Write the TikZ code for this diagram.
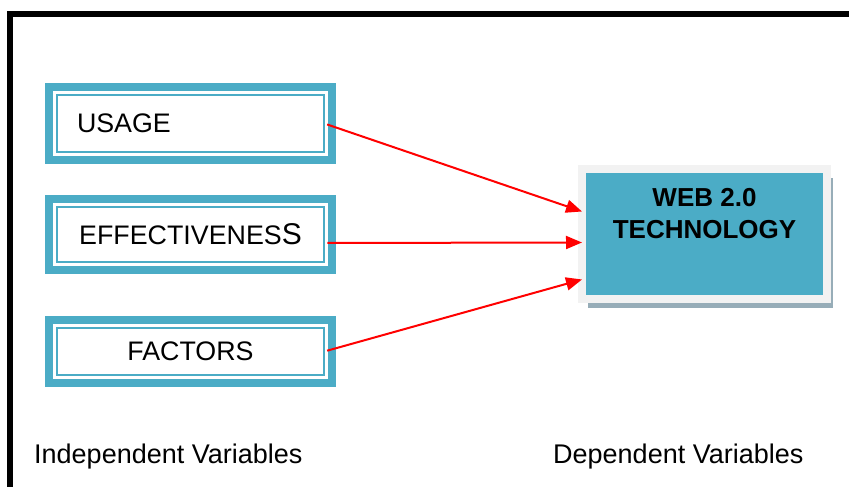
\documentclass[tikz,border=0pt]{standalone}
\usepackage{fontspec}
\setmainfont{Liberation Sans}
\usetikzlibrary{positioning,arrows.meta,shadows}
\definecolor{boxblue}{HTML}{4BACC6}
\definecolor{bandgray}{HTML}{F2F2F2}
\definecolor{shadowgray}{HTML}{97ADB8}
\tikzset{
  varbox/.style={rectangle, inner sep=0pt, outer sep=0pt, minimum width=267.6pt, minimum height=#1,
    fill=white, draw=boxblue, line width=2pt,
    preaction={draw=boxblue, line width=23.4pt},
    preaction={draw=white, line width=6.8pt},
    font=\fontsize{26.8}{30}\selectfont},
  webbox/.style={rectangle, inner sep=0pt, outer sep=0pt, minimum width=245pt, minimum height=130pt,
    fill=boxblue, draw=bandgray, line width=8pt,
    drop shadow={shadow xshift=6pt, shadow yshift=-9pt, fill=shadowgray, opacity=1}},
  webtitle/.style={inner sep=0pt, align=center, font=\bfseries\fontsize{26}{32}\selectfont},
  caption/.style={inner sep=0pt, anchor=base west, font=\fontsize{27}{30}\selectfont},
  link/.style={-{Triangle[length=16pt,width=13pt]}, red, line width=2pt, shorten <=3pt}
}
\begin{document}
\begin{tikzpicture}[x=1pt, y=1pt]
  \useasboundingbox (0,0) rectangle (849,487);
  % frame
  \draw [line width=5.5pt] (10,-20) -- (10,473) -- (870,473);
  % independent variables
  \node [varbox=57.6pt, text width=227pt, align=left] (usage) at (190.5,363.5) {USAGE};
  \node [varbox=55.6pt, below=54.4pt of usage] (effect) {EFFECTIVENES{\fontsize{30}{30}\selectfont S}};
  \node [varbox=47.6pt, below=65.4pt of effect] (factors) {FACTORS};
  % dependent variable
  \node [webbox, right=257.7pt of effect] (web) {};
  \node [webtitle, below=19pt of web.north] (webtext) {WEB 2.0\\TECHNOLOGY};
  \draw [link] (usage.east) -- ([yshift=23pt]web.west);
  \draw [link] ([yshift=-8.5pt]effect.east) -- ([yshift=-8pt]web.west);
  \draw [link] (factors.east) -- ([yshift=-45pt]web.west);
  \node [caption] (indep) at (34,23) {Independent Variables};
  \node [caption] (dep) at (553,23) {Dependent Variables};
\end{tikzpicture}
\end{document}
